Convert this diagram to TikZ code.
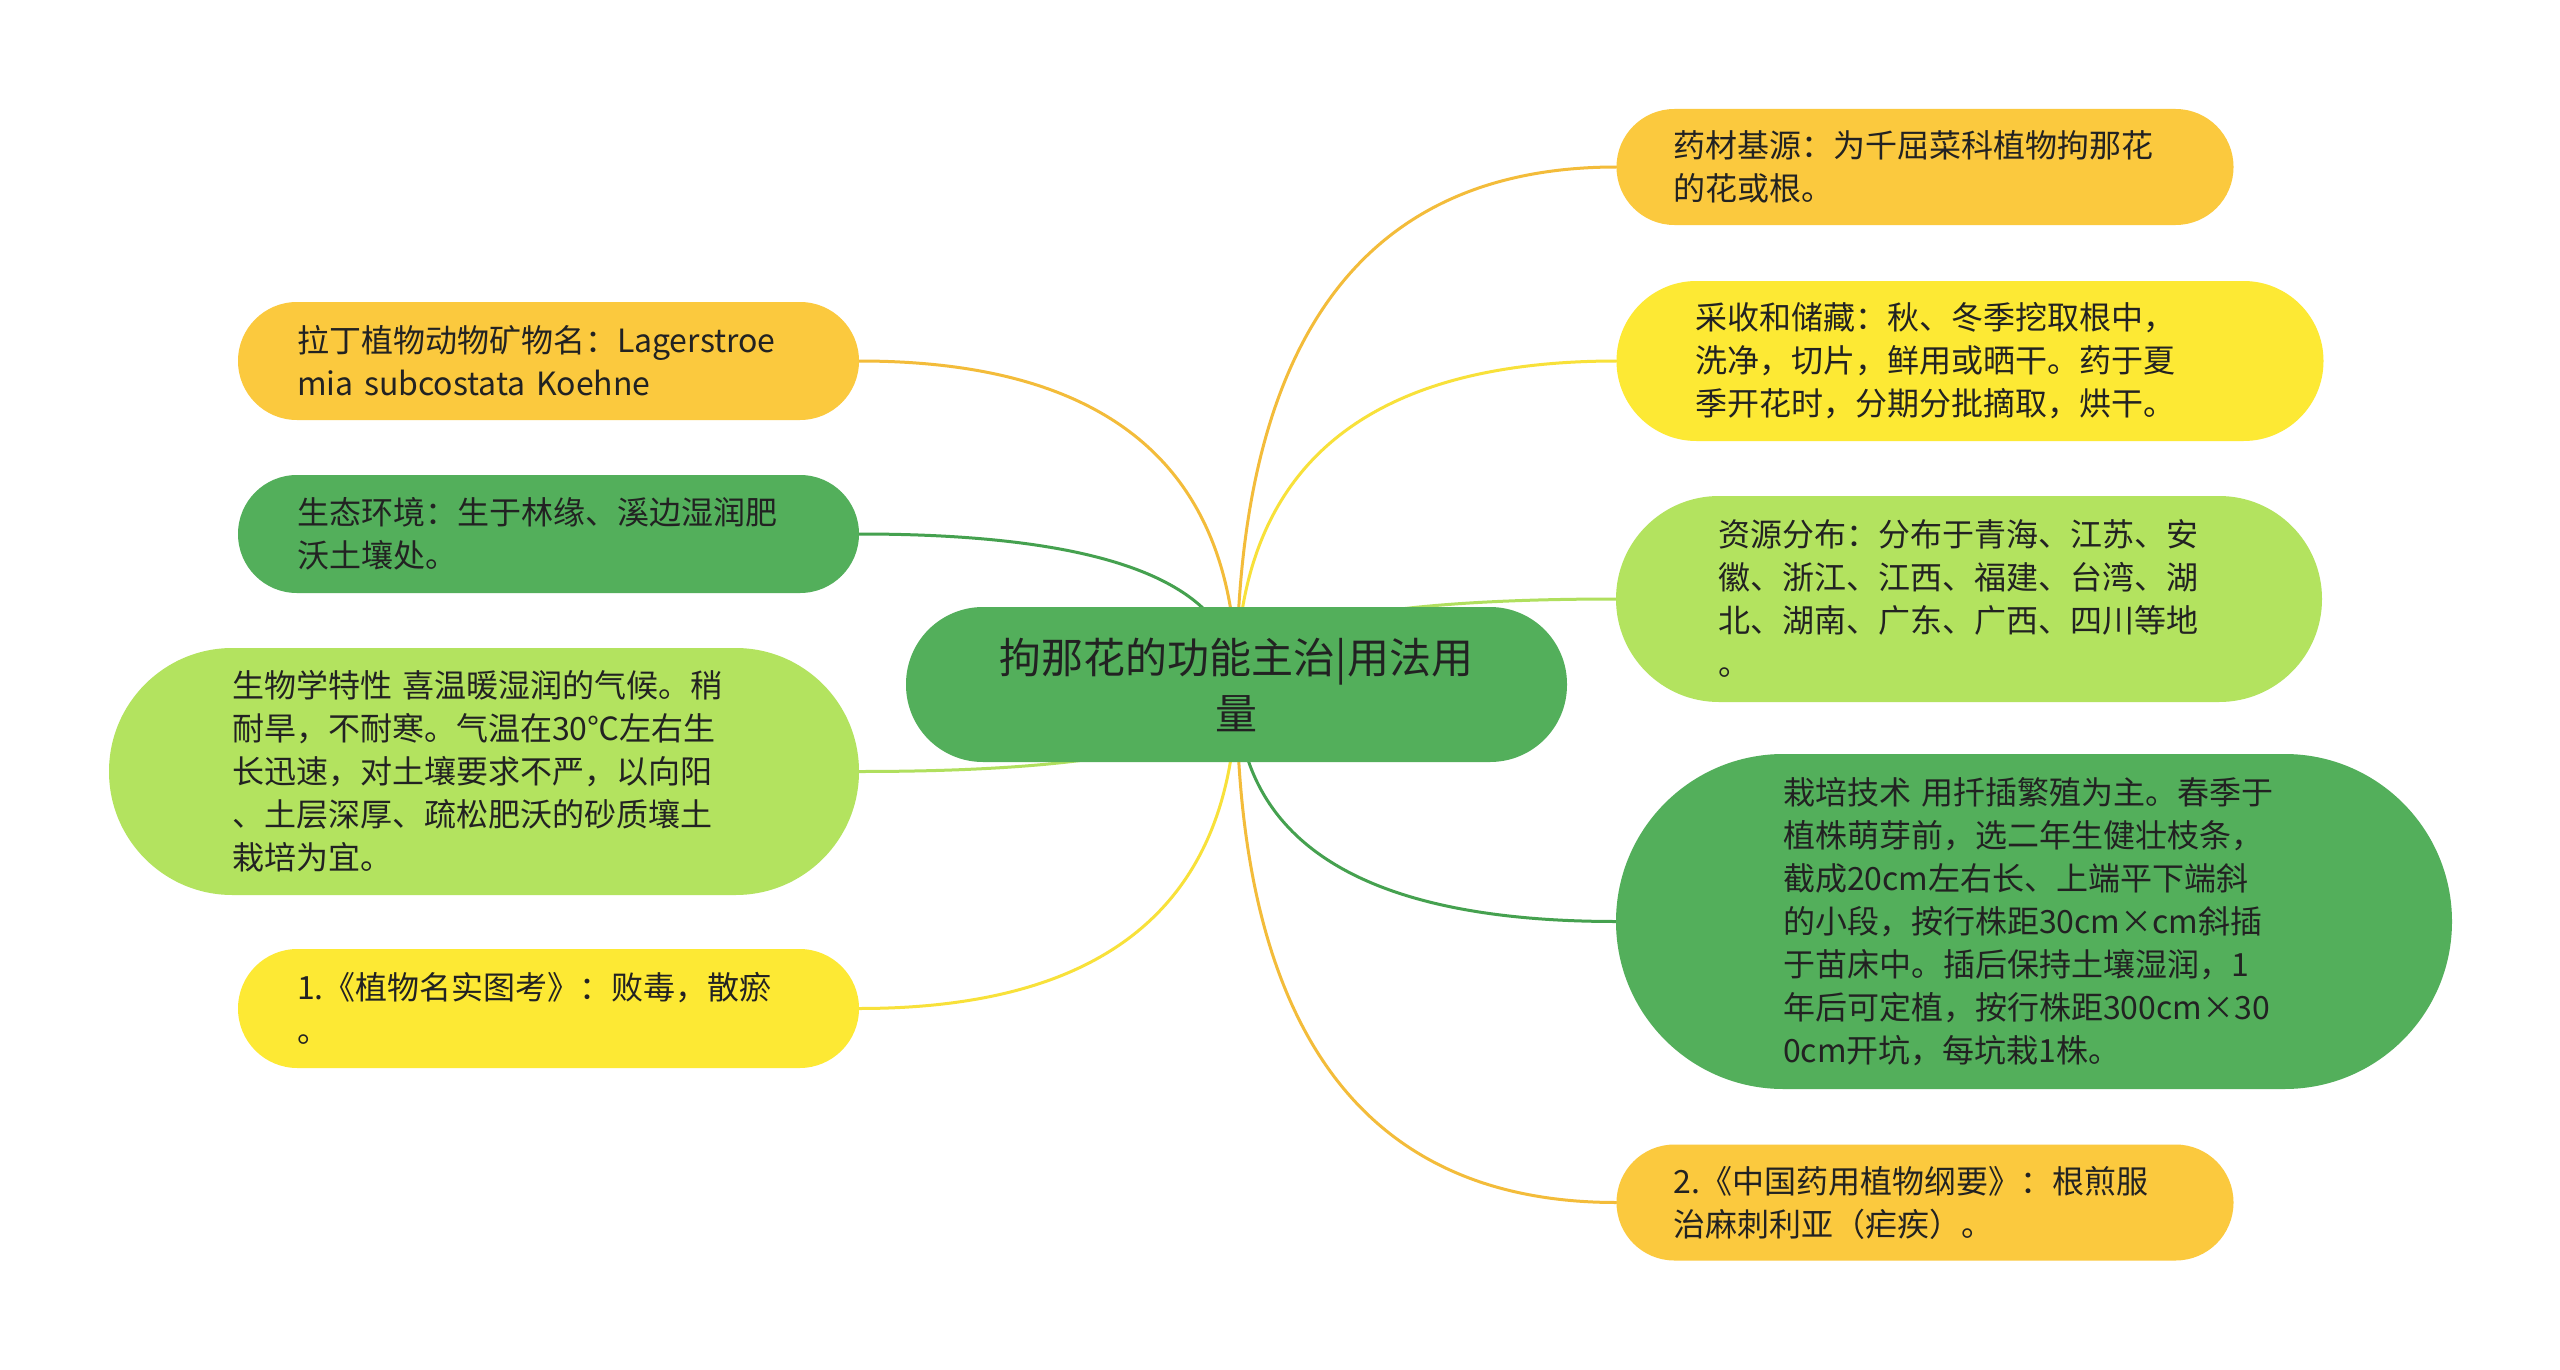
\documentclass[tikz,border=0pt]{standalone}
\usepackage{fontspec}
\setmainfont{Noto Sans CJK SC}
\usetikzlibrary{calc,backgrounds}
\definecolor{amber}{HTML}{FBC93E}
\definecolor{bright}{HTML}{FDE934}
\definecolor{lgreen}{HTML}{B3E35F}
\definecolor{dgreen}{HTML}{53AF5B}
\definecolor{amberline}{HTML}{F3BC3A}
\definecolor{brightline}{HTML}{F8E13A}
\definecolor{lgreenline}{HTML}{B0DF5E}
\definecolor{dgreenline}{HTML}{45A14F}
\definecolor{txt}{HTML}{222222}
\newcommand{\mmedge}[3]{%
  \path (root.center |- #2.#3) coordinate (k#2);
  \draw[branch, #1] (root.center) .. controls ($(root.center)!0.6667!(k#2)$) and ($(#2.#3)!0.6667!(k#2)$) .. (#2.#3);
}
\begin{document}
\begin{tikzpicture}[x=1pt,y=-1pt,
  leaf/.style={draw=none, text=txt, align=left, inner ysep=0pt,
    font=\fontsize{32}{43}\selectfont},
  rootbox/.style={fill=dgreen, text=txt, align=center, inner ysep=0pt,
    font=\fontsize{42}{56}\selectfont},
  branch/.style={line width=3pt, line cap=round}]
\useasboundingbox (0,0) rectangle (2560,1370);

\node[rootbox, minimum width=661pt, minimum height=155pt, rounded corners=77pt,
  text width=561pt, inner xsep=50pt] (root) at (1236.5,684.5)
  {拘那花的功能主治|用法用\\量};

% right side
\node[leaf, fill=amber, minimum height=116pt, rounded corners=57.9pt,
  inner xsep=57pt, text width=503pt] (n1) at (1925,167)
  {药材基源：为千屈菜科植物拘那花\\的花或根。};
\node[leaf, fill=bright, minimum height=160pt, rounded corners=79.9pt,
  inner xsep=79pt, text width=549pt] (n2) at (1970,361)
  {采收和储藏：秋、冬季挖取根中，\\洗净，切片，鲜用或晒干。药于夏\\季开花时，分期分批摘取，烘干。};
\node[leaf, fill=lgreen, minimum height=206pt, rounded corners=102.9pt,
  inner xsep=102pt, text width=502pt] (n3) at (1969,599)
  {资源分布：分布于青海、江苏、安\\徽、浙江、江西、福建、台湾、湖\\北、湖南、广东、广西、四川等地\\。};
\node[leaf, fill=dgreen, minimum height=335pt, rounded corners=167.4pt,
  inner xsep=167pt, text width=502pt] (n4) at (2034,921.5)
  {栽培技术~用扦插繁殖为主。春季于\\植株萌芽前，选二年生健壮枝条，\\截成20cm左右长、上端平下端斜\\的小段，按行株距30cm×cm斜插\\于苗床中。插后保持土壤湿润，1\\年后可定植，按行株距300cm×30\\0cm开坑，每坑栽1株。};
\node[leaf, fill=amber, minimum height=116pt, rounded corners=57.9pt,
  inner xsep=57pt, text width=503pt] (n5) at (1925,1202.5)
  {2.《中国药用植物纲要》：根煎服\\治麻刺利亚（疟疾）。};

% left side
\node[leaf, fill=amber, minimum height=118pt, rounded corners=58.9pt,
  inner xsep=59pt, text width=503pt] (n6) at (548.5,361)
  {拉丁植物动物矿物名：Lagerstroe\\mia~subcostata~Koehne};
\node[leaf, fill=dgreen, minimum height=118pt, rounded corners=58.9pt,
  inner xsep=59pt, text width=503pt] (n7) at (548.5,534)
  {生态环境：生于林缘、溪边湿润肥\\沃土壤处。};
\node[leaf, fill=lgreen, minimum height=247pt, rounded corners=123.4pt,
  inner xsep=123pt, text width=504pt] (n8) at (484,771.5)
  {生物学特性~喜温暖湿润的气候。稍\\耐旱，不耐寒。气温在30℃左右生\\长迅速，对土壤要求不严，以向阳\\、土层深厚、疏松肥沃的砂质壤土\\栽培为宜。};
\node[leaf, fill=bright, minimum height=119pt, rounded corners=59.4pt,
  inner xsep=59pt, text width=503pt] (n9) at (548.5,1008.5)
  {1.《植物名实图考》：败毒，散瘀\\。};

\begin{pgfonlayer}{background}
\fill[white] (0,0) rectangle (2560,1370);
\mmedge{amberline}{n1}{west}
\mmedge{brightline}{n2}{west}
\mmedge{lgreenline}{n3}{west}
\mmedge{dgreenline}{n4}{west}
\mmedge{amberline}{n5}{west}
\mmedge{amberline}{n6}{east}
\mmedge{dgreenline}{n7}{east}
\mmedge{lgreenline}{n8}{east}
\mmedge{brightline}{n9}{east}
\end{pgfonlayer}
\end{tikzpicture}
\end{document}
